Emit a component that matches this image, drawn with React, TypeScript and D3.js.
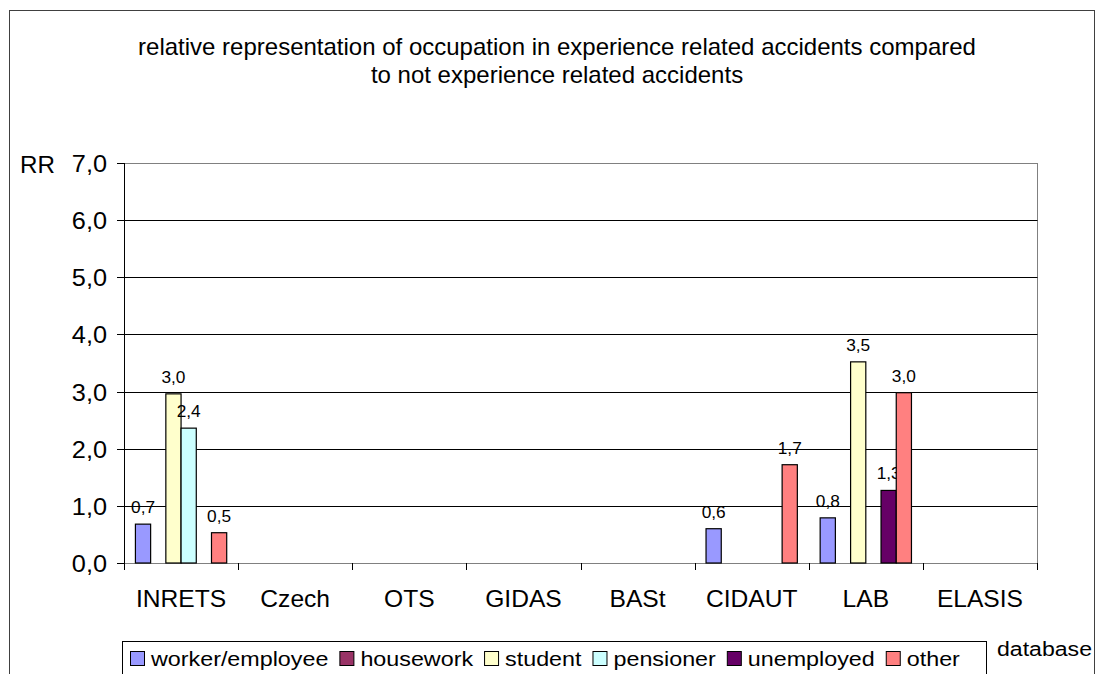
import React, { useRef, useEffect } from 'react';
import { select, scaleBand, scaleLinear, range } from 'd3';

const categories = ['INRETS', 'Czech', 'OTS', 'GIDAS', 'BASt', 'CIDAUT', 'LAB', 'ELASIS'];
const seriesNames = ['worker/employee', 'housework', 'student', 'pensioner', 'unemployed', 'other'];
const seriesColors = ['#9999FF', '#993366', '#FFFFCC', '#CCFFFF', '#660066', '#FF8080'];

// null = no bar
const worker = [0.68, null, null, null, null, 0.6, 0.79, null];
const housework = [null, null, null, null, null, null, null, null];
const student = [2.96, null, null, null, null, null, 3.52, null];
const pensioner = [2.36, null, null, null, null, null, null, null];
const unemployed = [null, null, null, null, null, null, 1.27, null];
const other = [0.53, null, null, null, null, 1.72, 2.98, null];
const seriesValues = [worker, housework, student, pensioner, unemployed, other];

const yTicks = [0, 1, 2, 3, 4, 5, 6, 7];
const titleLines = [
  'relative representation of occupation in experience related accidents compared',
  'to not experience related accidents',
];

const fmt = (v: number) => v.toFixed(1).replace('.', ',');
const font = 'Arial, "Liberation Sans", sans-serif';

function App() {
  const svgRef = useRef<SVGSVGElement>(null);

  useEffect(() => {
    document.body.style.margin = '0';
    const svg = select(svgRef.current);
    svg.selectAll('*').remove();

    // text slightly stretched horizontally, like the source rendering
    const label = (g: any, x: number, y: number, txt: string, size: number, sx: number, anchor = 'start') =>
      g.append('text')
        .attr('transform', `translate(${x},${y}) scale(${sx},1)`)
        .attr('text-anchor', anchor)
        .attr('font-family', font).attr('font-size', size)
        .text(txt);

    const left = 124, right = 1037, top = 163, bottom = 563;

    const x = scaleBand<string>().domain(categories).range([left, right]);
    const inner = scaleBand<number>()
      .domain(range(seriesNames.length))
      .range([0, x.bandwidth()])
      .paddingOuter(0.75);
    const y = scaleLinear().domain([0, 7]).range([bottom, top]);

    // outer frame
    svg.append('rect')
      .attr('x', 9.5).attr('y', 10.5).attr('width', 1085).attr('height', 700)
      .attr('fill', 'white').attr('stroke', '#404040');

    // title
    titleLines.forEach((t, i) => label(svg, 557, 55 + i * 28, t, 24, 1.0, 'middle'));

    // plot border (gray top/right)
    svg.append('rect')
      .attr('x', left + 0.5).attr('y', top + 0.5)
      .attr('width', right - left).attr('height', bottom - top)
      .attr('fill', 'none').attr('stroke', '#808080');

    // gridlines
    svg.append('g').selectAll('line').data(yTicks.slice(1, -1)).join('line')
      .attr('x1', left).attr('x2', right + 0.5)
      .attr('y1', d => Math.round(y(d)) + 0.5).attr('y2', d => Math.round(y(d)) + 0.5)
      .attr('stroke', 'black');

    // y axis
    const ya = svg.append('g');
    ya.append('line').attr('x1', left + 0.5).attr('x2', left + 0.5)
      .attr('y1', top).attr('y2', bottom + 0.5).attr('stroke', 'black');
    ya.selectAll('line.tk').data(yTicks).join('line').attr('class', 'tk')
      .attr('x1', left - 7).attr('x2', left)
      .attr('y1', d => Math.round(y(d)) + 0.5).attr('y2', d => Math.round(y(d)) + 0.5)
      .attr('stroke', 'black');
    yTicks.forEach(d => label(ya, 107, y(d) + 9, fmt(d), 23, 1.1, 'end'));

    label(svg, 20, 173, 'RR', 23, 1.05);

    // x axis
    const xa = svg.append('g');
    xa.append('line').attr('x1', left).attr('x2', right + 0.5)
      .attr('y1', bottom + 0.5).attr('y2', bottom + 0.5).attr('stroke', 'black');
    xa.selectAll('line').data(range(categories.length + 1)).join('line')
      .attr('x1', i => Math.round(left + i * x.step()) + 0.5)
      .attr('x2', i => Math.round(left + i * x.step()) + 0.5)
      .attr('y1', bottom).attr('y2', bottom + 7)
      .attr('stroke', 'black');
    categories.forEach(c => label(xa, (x(c) as number) + x.bandwidth() / 2, 607, c, 23, 1.07, 'middle'));

    // bars
    seriesValues.forEach((vals, s) => {
      const g = svg.append('g');
      const pts = categories.map((c, i) => ({ c, v: vals[i] })).filter(p => p.v != null) as { c: string; v: number }[];
      g.selectAll('rect').data(pts).join('rect')
        .attr('x', p => (x(p.c) as number) + (inner(s) as number))
        .attr('y', p => y(p.v))
        .attr('width', inner.bandwidth())
        .attr('height', p => bottom - y(p.v))
        .attr('fill', seriesColors[s])
        .attr('stroke', 'black').attr('stroke-width', 1.2);
      pts.forEach(p => label(g, (x(p.c) as number) + (inner(s) as number) + inner.bandwidth() / 2,
        y(p.v) - 11, fmt(p.v), 16, 1.08, 'middle'));
    });

    // legend
    const lg = svg.append('g');
    lg.append('rect').attr('x', 122.5).attr('y', 641.5).attr('width', 864).attr('height', 60)
      .attr('fill', 'white').attr('stroke', 'black');
    let cx = 130;
    seriesNames.forEach((n, i) => {
      lg.append('rect').attr('x', cx + 0.5).attr('y', 651.5).attr('width', 14).attr('height', 14)
        .attr('fill', seriesColors[i]).attr('stroke', 'black');
      const t = label(lg, cx + 21, 666, n, 21, 1.11);
      const w = (t.node() as SVGTextElement).getComputedTextLength() * 1.11;
      cx += 21 + w + 11;
    });
    label(svg, 997, 656, 'database', 21, 1.1);
  }, []);

  return <svg ref={svgRef} width={1101} height={674} style={{ display: 'block' }} />;
}

export default App;
